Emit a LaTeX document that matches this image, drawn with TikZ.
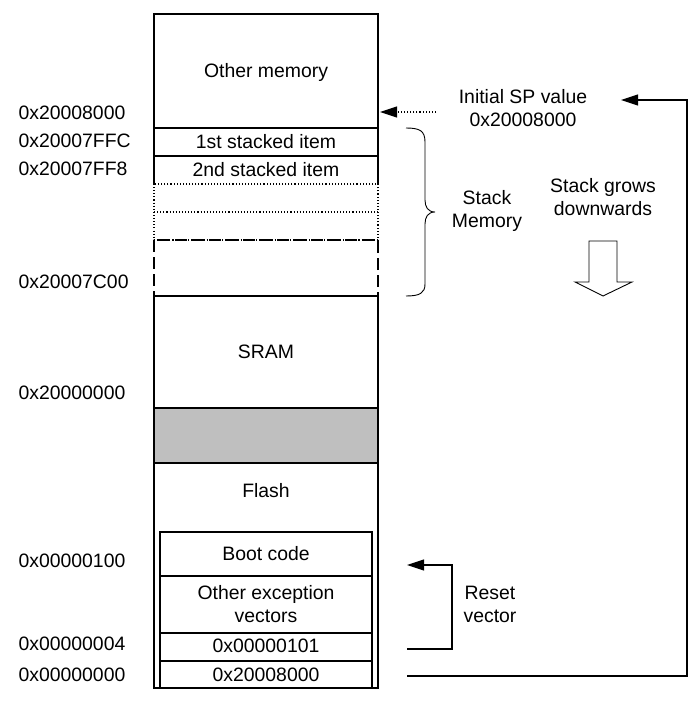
\documentclass[tikz,border=0pt]{standalone}
\usepackage{fontspec}
\setmainfont{Liberation Sans}
\usetikzlibrary{arrows.meta}
\tikzset{
    lbl/.style={font=\fontsize{19.4}{23}\selectfont, inner sep=0pt, align=center},
    addr/.style={lbl, anchor=west},
    tip/.style={-{Triangle[length=17pt,width=11pt]}},
}
\begin{document}
\begin{tikzpicture}[x=1pt,y=-1pt,line width=1.1pt]
                \useasboundingbox (0,0) rectangle (700,703);
                % memory column
                \draw (154,184) -- (154,14) -- (378,14) -- (378,184);
                \draw (154,128) -- (378,128);
                \draw (154,156) -- (378,156);
                \draw[dotted] (154,184) rectangle (378,240);
                \draw[dotted] (154,212) -- (378,212);
                \draw[dash pattern=on 12pt off 5pt] (154,240) rectangle (378,296);
                \draw (154,296) rectangle (378,688);
                \draw[fill=black!25] (154,408) rectangle (378,463);
                \draw (160,532) rectangle (372,688);
                \foreach \y in {576,633,661}{
                    \draw (160,\y) -- (372,\y);
                }
                % block texts
                \node[lbl] (othermem) at (266,72) {Other memory};
                \node[lbl] (item1) at (266,142) {1st stacked item};
                \node[lbl] (item2) at (266,170) {2nd stacked item};
                \node[lbl] (sram) at (266,352) {SRAM};
                \node[lbl] (flash) at (266,491) {Flash};
                \node[lbl] (boot) at (266,554) {Boot code};
                \node[lbl] (othervec) at (266,604) {Other exception\\vectors};
                \node[lbl] (resetval) at (266,646) {0x00000101};
                \node[lbl] (spval) at (266,675) {0x20008000};
                % addresses
                \node[addr] (a1) at (18,113) {0x20008000};
                \node[addr] (a2) at (18,141) {0x20007FFC};
                \node[addr] (a3) at (18,169) {0x20007FF8};
                \node[addr] (a4) at (18,282) {0x20007C00};
                \node[addr] (a5) at (18,393) {0x20000000};
                \node[addr] (a6) at (18,561) {0x00000100};
                \node[addr] (a7) at (18,644) {0x00000004};
                \node[addr] (a8) at (18,675) {0x00000000};
                % right side texts
                \node[lbl] (initsp) at (523,108) {Initial SP value\\0x20008000};
                \node[lbl] (stackmem) at (487,211) {Stack\\Memory};
                \node[lbl] (grows) at (603,197) {Stack grows\\downwards};
                \node[lbl] (resetvec) at (490,604) {Reset\\vector};
                % brace
                \draw[line width=0.9pt] (406,128) .. controls (420,128) and (425,131) .. (425,142)
                    -- (425,200) .. controls (425,207) and (428,212) .. (435,212)
                    .. controls (428,212) and (425,217) .. (425,224)
                    -- (425,284) .. controls (425,293) and (420,296) .. (406,296);
                % hollow arrow
                \draw[line width=0.9pt] (589,241) -- (617,241) -- (617,282) -- (632,282) -- (603,296)
                    -- (575,282) -- (589,282) -- cycle;
                % connectors
                \coordinate (spfrom) at (436,112);
                \coordinate (sptip) at (380,112);
                \draw[tip,dotted] (spfrom) -- (sptip);
                \coordinate (rvfrom) at (407,649);
                \coordinate (rvturn) at (452,565);
                \coordinate (rvtip) at (407,565);
                \draw[tip] (rvfrom) -| (rvturn) -- (rvtip);
                \coordinate (svfrom) at (407,676);
                \coordinate (svturn) at (687,100);
                \coordinate (svtip) at (621,100);
                \draw[tip] (svfrom) -| (svturn) -- (svtip);
            \end{tikzpicture}
\end{document}
